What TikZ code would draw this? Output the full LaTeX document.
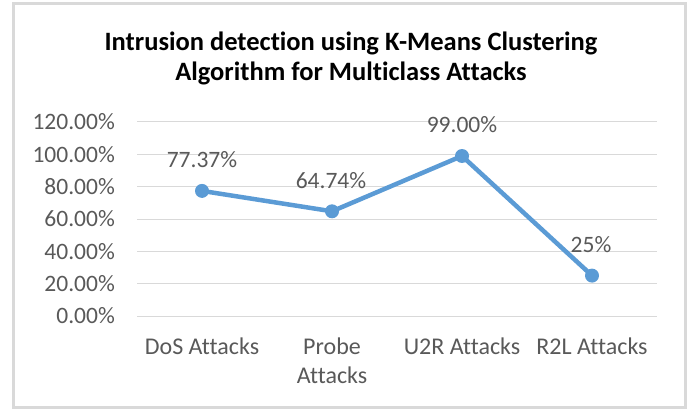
\documentclass[tikz,border=0pt]{standalone}
\usepackage{fontspec}
\setmainfont{Carlito}[RawFeature=-liga]
\definecolor{serblue}{HTML}{5B9BD5}
\definecolor{gridgray}{HTML}{D9D9D9}
\definecolor{framegray}{HTML}{D9D9D9}
\definecolor{labgray}{HTML}{595959}
\tikzset{
  gridline/.style={draw=gridgray, line width=1pt},
  yticklab/.style={anchor=east, inner sep=0pt, text=labgray, font=\fontsize{23.5}{27}\selectfont},
  catlab/.style={anchor=north, inner sep=0pt, align=center, text=labgray, font=\fontsize{24}{29}\selectfont},
  datalab/.style={inner sep=0pt, text=labgray, font=\fontsize{23.5}{27}\selectfont},
  serline/.style={draw=serblue, line width=4.5pt, line join=round},
  dot/.style={circle, fill=serblue, inner sep=0pt, minimum size=14pt}
}
\begin{document}
\begin{tikzpicture}[x=1pt,y=-1pt]
        \useasboundingbox (0,0) rectangle (690,409);
        \draw[framegray, line width=2.5pt] (13.5,3.5) rectangle (685.5,407.5);
        % title
        \node[font=\bfseries\fontsize{26.5}{30}\selectfont, align=center] (title) at (351,58)
            {Intrusion detection using K-Means Clustering\\Algorithm for Multiclass Attacks};
        % grid and value axis
        \draw[gridline] (137,316) -- (657,316);
        \draw[gridline] (137,283.7) -- (657,283.7);
        \draw[gridline] (137,251.3) -- (657,251.3);
        \draw[gridline] (137,219) -- (657,219);
        \draw[gridline] (137,186.7) -- (657,186.7);
        \draw[gridline] (137,154.3) -- (657,154.3);
        \draw[gridline] (137,122) -- (657,122);
        \node[yticklab] (y0) at (115,316) {0.00\%};
        \node[yticklab] (y20) at (115,283.7) {20.00\%};
        \node[yticklab] (y40) at (115,251.3) {40.00\%};
        \node[yticklab] (y60) at (115,219) {60.00\%};
        \node[yticklab] (y80) at (115,186.7) {80.00\%};
        \node[yticklab] (y100) at (115,154.3) {100.00\%};
        \node[yticklab] (y120) at (115,122) {120.00\%};
        % categories
        \node[catlab] (dos) at (202,338) {DoS Attacks};
        \node[catlab] (probe) at (332,338) {Probe\\Attacks};
        \node[catlab] (u2r) at (462,338) {U2R Attacks};
        \node[catlab] (r2l) at (592,338) {R2L Attacks};
        % series
        \coordinate (pdos) at (202,190.9);
        \coordinate (pprobe) at (332,211.3);
        \coordinate (pu2r) at (462,156);
        \coordinate (pr2l) at (592,275.6);
        \draw[serline] (pdos) -- (pprobe) -- (pu2r) -- (pr2l);
        \node[dot] (mdos) at (pdos) {};
        \node[dot] (mprobe) at (pprobe) {};
        \node[dot] (mu2r) at (pu2r) {};
        \node[dot] (mr2l) at (pr2l) {};
        \node[datalab] (ldos) at (202,160) {77.37\%};
        \node[datalab] (lprobe) at (331,181) {64.74\%};
        \node[datalab] (lu2r) at (462,125) {99.00\%};
        \node[datalab] (lr2l) at (591,245) {25\%};
\end{tikzpicture}
\end{document}
